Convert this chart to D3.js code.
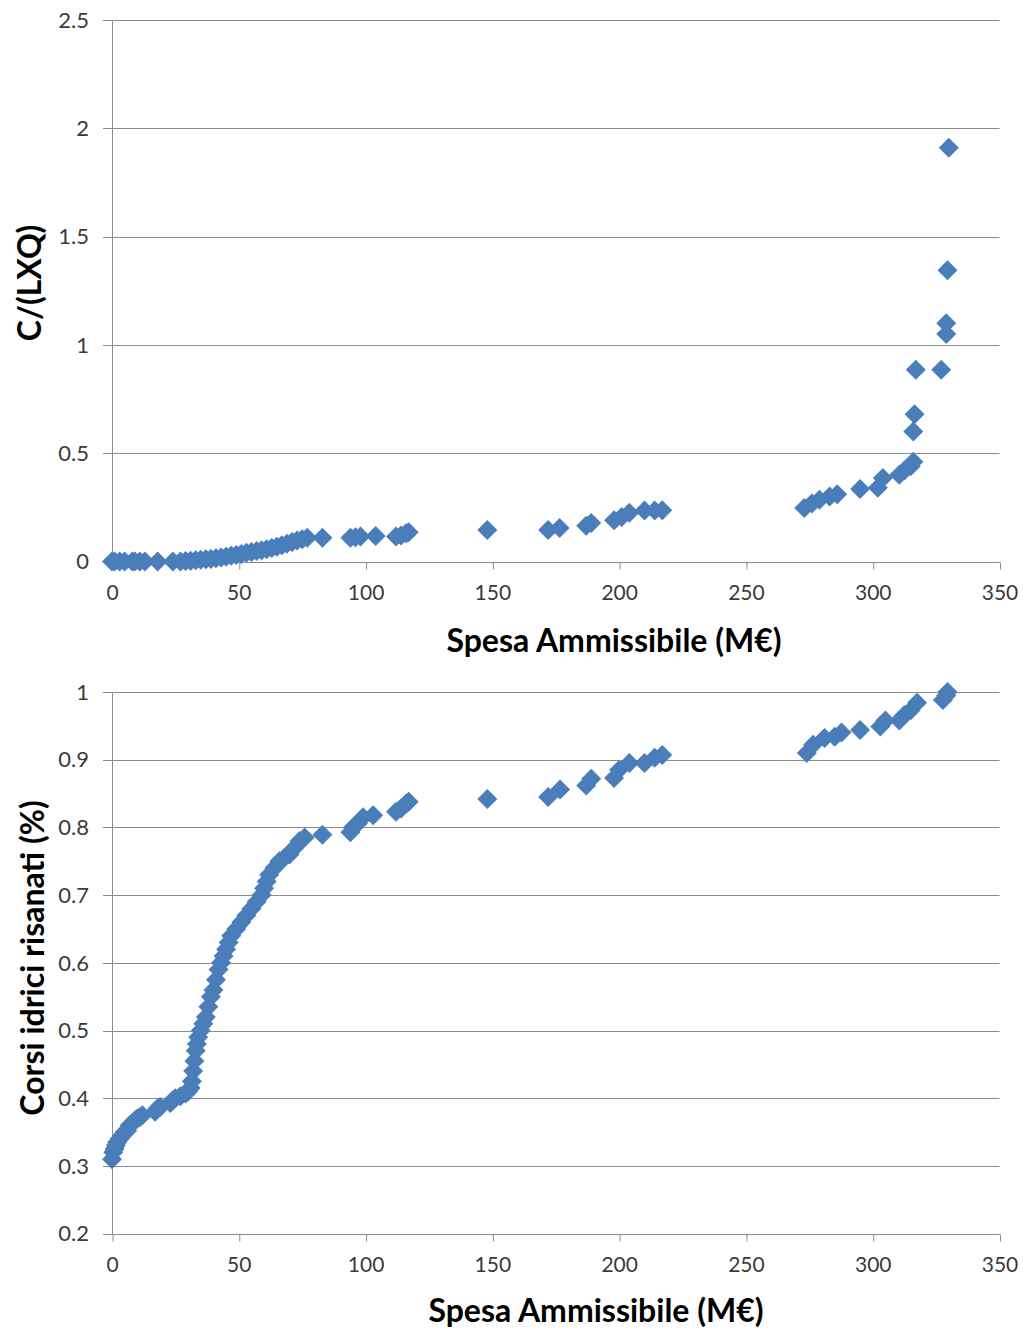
<!DOCTYPE html>
<html>
<head>
<meta charset="utf-8">
<script src="https://cdn.jsdelivr.net/npm/d3@7"></script>
<style>
  html, body { margin: 0; padding: 0; background: #ffffff; }
  svg { display: block; }
</style>
</head>
<body>
<svg id="chart" width="1026" height="1330"></svg>
<script>
// ---------- DATA ----------
const xTicks = [0, 50, 100, 150, 200, 250, 300, 350];
const topYTicks = [0, 0.5, 1, 1.5, 2, 2.5];
const bottomYTicks = [0.2, 0.3, 0.4, 0.5, 0.6, 0.7, 0.8, 0.9, 1];

const xTitle = "Spesa Ammissibile (M€)";
const topYTitle = "C/(LXQ)";
const bottomYTitle = "Corsi idrici risanati (%)";

// Top chart: C/(LXQ) vs Spesa Ammissibile
const topX = [0, 1, 3, 5, 8, 9, 11, 13, 18, 24, 27, 29, 31, 33, 35, 37, 39, 41, 43, 45,
  47, 49, 51, 53, 55, 57, 59, 61, 63, 65, 67, 69, 71, 73, 75, 77, 83, 94, 96, 98,
  104, 112, 114, 116, 117, 148, 172, 176.5, 187, 189, 198, 201, 204, 210, 214, 217,
  273, 276, 279, 283, 286, 295, 302, 304, 310.5, 312.5, 315, 316, 316, 316.5, 317,
  327, 329, 329, 329.5, 330];
const topY = [0, 0, 0, 0, 0, 0, 0, 0, 0, 0, 0, 0.002, 0.004, 0.006, 0.008, 0.01, 0.012, 0.015, 0.018, 0.022,
  0.026, 0.03, 0.035, 0.04, 0.044, 0.048, 0.052, 0.057, 0.062, 0.068, 0.075, 0.082, 0.09, 0.097, 0.103, 0.11, 0.11, 0.11, 0.112, 0.115,
  0.118, 0.115, 0.12, 0.13, 0.135, 0.145, 0.145, 0.155, 0.165, 0.178, 0.19, 0.205, 0.225, 0.235, 0.235, 0.237,
  0.247, 0.268, 0.285, 0.3, 0.31, 0.335, 0.34, 0.385, 0.4, 0.42, 0.44, 0.46, 0.6, 0.68, 0.885,
  0.885, 1.05, 1.1, 1.345, 1.91];

// Bottom chart: Corsi idrici risanati vs Spesa Ammissibile
const bottomX = [0, 0.5, 1, 1.5, 2, 3, 4, 5, 6, 7, 8, 9, 10, 11, 12, 17, 18, 19, 23, 24,
  25, 27, 29, 30, 31, 31.5, 32, 32.5, 33, 33.5, 34, 35, 36, 37, 38, 39, 40, 41, 42, 43,
  44, 45, 46, 47, 49, 51, 53, 55, 57, 59, 60, 61, 62, 64, 66, 68, 70, 72, 74, 76,
  83, 94, 95, 97, 99, 103, 112, 114, 116, 117, 148, 172, 176.7, 187, 189, 198, 200, 204,
  210, 214, 217, 274, 276.5, 281, 285, 287.7, 295, 303, 305, 310.5, 312.5, 315, 317.5,
  327.7, 329, 329.5];
const bottomY = [0.31, 0.32, 0.325, 0.33, 0.335, 0.34, 0.345, 0.35, 0.352, 0.36, 0.363, 0.367, 0.37, 0.372, 0.375, 0.38, 0.385, 0.387, 0.393, 0.397,
  0.4, 0.403, 0.407, 0.41, 0.415, 0.425, 0.44, 0.455, 0.47, 0.48, 0.49, 0.5, 0.51, 0.52, 0.535, 0.55, 0.56, 0.575, 0.59, 0.6,
  0.61, 0.62, 0.63, 0.64, 0.65, 0.66, 0.67, 0.68, 0.69, 0.7, 0.71, 0.72, 0.73, 0.74, 0.75, 0.755, 0.76, 0.77, 0.78, 0.785,
  0.789, 0.793, 0.8, 0.806, 0.815, 0.818, 0.823, 0.828, 0.835, 0.838, 0.842, 0.845, 0.856, 0.862, 0.872, 0.873, 0.885, 0.895,
  0.895, 0.903, 0.907, 0.91, 0.922, 0.932, 0.934, 0.94, 0.944, 0.949, 0.958, 0.958, 0.966, 0.973, 0.984,
  0.988, 0.995, 1.0];

// ---------- DRAW ----------
const svg = d3.select("#chart");
const fontFamily = "Lato, 'Open Sans', sans-serif";
const gridColor = "#8c8c8c";
const markerColor = "#4a7ebb";
const tickTextColor = "#3a3a3a";
const plotLeft = 112, plotRight = 999.5;

const xScaleFor = () => d3.scaleLinear().domain([0, 350]).range([plotLeft, plotRight]);

function panel(cfg) {
  const x = xScaleFor();
  const y = d3.scaleLinear().domain(cfg.yDomain).range([cfg.bottom, cfg.top]);
  const g = svg.append("g");

  // horizontal gridlines (+ y tick marks)
  g.selectAll(".grid").data(cfg.yTicks).enter().append("line")
    .attr("x1", plotLeft - 9).attr("x2", plotRight)
    .attr("y1", d => Math.round(y(d)) + 0.5).attr("y2", d => Math.round(y(d)) + 0.5)
    .attr("stroke", gridColor).attr("stroke-width", 1);

  // y axis line
  g.append("line")
    .attr("x1", plotLeft + 0.5).attr("x2", plotLeft + 0.5)
    .attr("y1", Math.round(y(cfg.yDomain[1]))).attr("y2", Math.round(y(cfg.yDomain[0])) + 1)
    .attr("stroke", gridColor).attr("stroke-width", 1);

  // x axis via d3.axisBottom
  const xAxis = d3.axisBottom(x).tickValues(xTicks).tickSize(7).tickPadding(16)
    .tickFormat(d3.format("d"));
  const ax = g.append("g")
    .attr("transform", `translate(0,${Math.round(y(cfg.yDomain[0])) + 0.5})`)
    .call(xAxis);
  ax.select(".domain").attr("stroke", gridColor).attr("d", `M${plotLeft},0H${plotRight}`);
  ax.selectAll(".tick line").attr("stroke", gridColor).attr("transform", "translate(0.5,0)");
  ax.selectAll(".tick text")
    .attr("fill", tickTextColor).attr("font-family", fontFamily).attr("font-size", 21);

  // y tick labels
  g.selectAll(".ylab").data(cfg.yTicks).enter().append("text")
    .attr("x", 89).attr("y", d => y(d))
    .attr("dy", "0.35em")
    .attr("text-anchor", "end")
    .attr("fill", tickTextColor).attr("font-family", fontFamily).attr("font-size", 22)
    .text(d => cfg.fmt(d));

  // markers
  const r = 10;
  const diamond = `M0,${-r}L${r},0L0,${r}L${-r},0Z`;
  g.selectAll(".pt").data(cfg.xs.map((v, i) => [v, cfg.ys[i]])).enter().append("path")
    .attr("d", diamond)
    .attr("transform", d => `translate(${x(d[0])},${y(d[1])})`)
    .attr("fill", markerColor);

  // x title
  g.append("text")
    .attr("x", cfg.xTitleX).attr("y", cfg.xTitleY)
    .attr("text-anchor", "middle").attr("dy", "0.35em")
    .attr("font-family", fontFamily).attr("font-weight", "bold").attr("font-size", 32)
    .attr("fill", "#000").text(xTitle);

  // y title
  g.append("text")
    .attr("transform", `translate(${cfg.yTitleX},${cfg.yTitleY}) rotate(-90)`)
    .attr("text-anchor", "middle").attr("dy", "0.35em")
    .attr("font-family", fontFamily).attr("font-weight", "bold").attr("font-size", 32)
    .attr("fill", "#000").text(cfg.yTitle);
}

panel({
  yDomain: [0, 2.5], top: 20, bottom: 561.5, yTicks: topYTicks,
  fmt: d => (d === 0 ? "0" : d3.format("")(d)),
  xs: topX, ys: topY,
  xTitleX: 614, xTitleY: 641,
  yTitle: topYTitle, yTitleX: 30, yTitleY: 283
});

panel({
  yDomain: [0.2, 1], top: 692, bottom: 1233.6, yTicks: bottomYTicks,
  fmt: d => (d === 1 ? "1" : d3.format(".1f")(d)),
  xs: bottomX, ys: bottomY,
  xTitleX: 596, xTitleY: 1311,
  yTitle: bottomYTitle, yTitleX: 33, yTitleY: 958
});
</script>
</body>
</html>
